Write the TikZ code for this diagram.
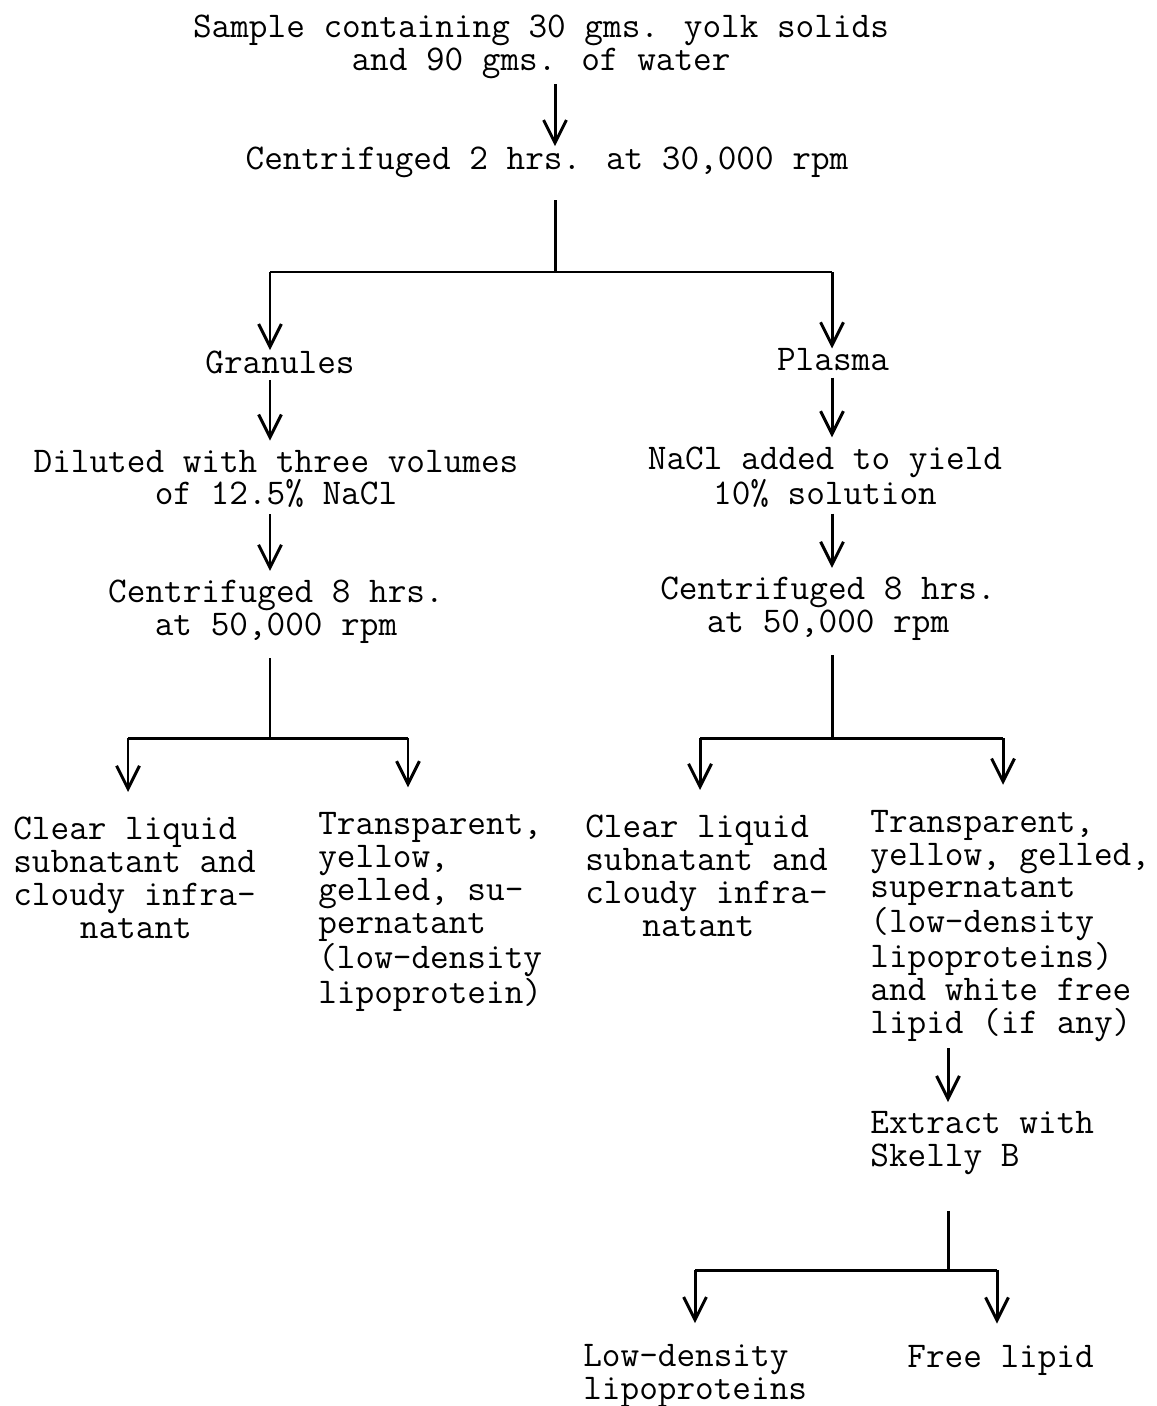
\documentclass[tikz,border=0pt]{standalone}
\usepackage{fontspec}
\usepackage{tikz}
\usetikzlibrary{arrows.meta}

\tikzset{
  tw/.style={font=\fontsize{20.6}{18.7}\selectfont\ttfamily, inner sep=0pt},
  twc/.style={tw, align=center},
  twl/.style={tw, align=left, anchor=west},
  flow/.style={line width=1.7pt},
  arr/.style={flow, -{Straight Barb[length=13pt,width=13pt]}},
  gap/.style={shorten <=0.12cm, shorten >=0.18cm},
}

\begin{document}
\begin{tikzpicture}[x=0.02cm,y=-0.02cm]
\useasboundingbox (0,0) rectangle (1156,1406);
% texts
\node[twc] (sample) at (541,47) {Sample containing 30 gms. yolk solids\\and 90 gms. of water};
\node[twc] (cent1) at (547,162) {Centrifuged 2 hrs. at 30,000 rpm};
\node[twc] (gran) at (280,362) {Granules};
\node[twc] (plasma) at (833,360) {Plasma};
\node[twc] (dil) at (276,479) {Diluted with three volumes\\of 12.5\% NaCl};
\node[twc] (nacl) at (825,477) {NaCl added to yield\\10\% solution};
\node[twc] (cent2l) at (276,612) {Centrifuged 8 hrs.\\at 50,000 rpm};
\node[twc] (cent2r) at (828,609) {Centrifuged 8 hrs.\\at 50,000 rpm};
\node[twl] (clearl) at (13,878) {Clear liquid\\subnatant and\\cloudy infra-\\\hspace*{1.84em}natant};
\node[twl] (transl) at (318,912) {Transparent,\\yellow,\\gelled, su-\\pernatant\\(low-density\\lipoprotein)};
\node[twl] (clearr) at (585,876) {Clear liquid\\subnatant and\\cloudy infra-\\\hspace*{1.575em}natant};
\node[twl] (transr) at (870,926) {Transparent,\\yellow, gelled,\\supernatant\\(low-density\\lipoproteins)\\and white free\\lipid (if any)};
\node[twl] (extract) at (870,1143) {Extract with\\Skelly B};
\node[twl] (ldl) at (583,1376) {Low-density\\lipoproteins};
\node[twl] (free) at (907,1360) {Free lipid};
% branch points
\coordinate (j0) at (555,272);
\coordinate (j0l) at (270,272);
\coordinate (j0r) at (832,272);
\coordinate (j1) at (270,738);
\coordinate (j1l) at (128,738);
\coordinate (j1r) at (408,738);
\coordinate (j2) at (832,738);
\coordinate (j2l) at (700,738);
\coordinate (j2r) at (1003,738);
\coordinate (j3) at (948,1270);
\coordinate (j3l) at (695,1270);
\coordinate (j3r) at (997,1270);
% first centrifuge
\draw[arr, shorten <=0.1cm] (sample.south -| j0) -- (cent1.north -| j0);
\draw[flow, shorten <=0.45cm] (cent1.south -| j0) -- (j0);
\draw[flow] (j0l) -- (j0r);
\draw[arr] (j0l) -- (gran.north -| j0l);
\draw[arr] (j0r) -- (plasma.north -| j0r);
% granules
\draw[arr, gap] (gran.south -| j0l) -- (dil.north -| j0l);
\draw[arr, gap] (dil.south -| j0l) -- (cent2l.north -| j0l);
\draw[flow, shorten <=0.28cm] (cent2l.south -| j1) -- (j1);
\draw[flow] (j1l) -- (j1r);
\draw[arr, shorten >=0.5cm] (j1l) -- (clearl.north -| j1l);
\draw[arr, shorten >=0.5cm] (j1r) -- (transl.north -| j1r);
% plasma
\draw[arr, gap] (plasma.south -| j0r) -- (nacl.north -| j0r);
\draw[arr, gap] (nacl.south -| j0r) -- (cent2r.north -| j0r);
\draw[flow, shorten <=0.28cm] (cent2r.south -| j2) -- (j2);
\draw[flow] (j2l) -- (j2r);
\draw[arr, shorten >=0.5cm] (j2l) -- (clearr.north -| j2l);
\draw[arr, shorten >=0.5cm] (j2r) -- (transr.north -| j2r);
% extraction
\draw[arr, gap] (transr.south -| j3) -- (extract.north -| j3);
\draw[flow, shorten <=0.72cm] (extract.south -| j3) -- (j3);
\draw[flow] (j3l) -- (j3r);
\draw[arr, shorten >=0.42cm] (j3l) -- (ldl.north -| j3l);
\draw[arr, shorten >=0.42cm] (j3r) -- (free.north -| j3r);
\end{tikzpicture}
\end{document}
